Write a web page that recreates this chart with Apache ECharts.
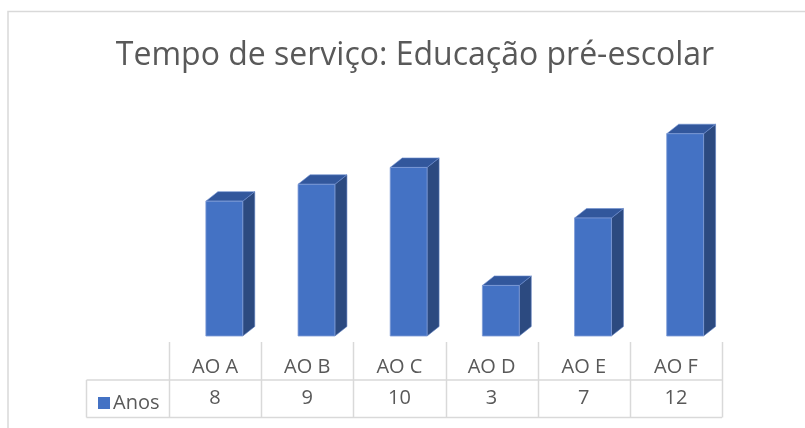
<!DOCTYPE html>
<html>
<head>
<meta charset="utf-8">
<script src="https://cdn.jsdelivr.net/npm/echarts@6/dist/echarts.min.js"></script>
<style>
  html, body { margin: 0; padding: 0; background: #fff; }
  #chart { width: 805px; height: 428px; }
</style>
</head>
<body>
<div id="chart"></div>
<script>
// dados
const categories = ['AO A', 'AO B', 'AO C', 'AO D', 'AO E', 'AO F'];
const anos = [8, 9, 10, 3, 7, 12];
const seriesName = 'Anos';
const titleText = 'Tempo de serviço: Educação pré-escolar';

const FONT = '"Open Sans", "Noto Sans", sans-serif';
const TEXT = '#595959';
const LINE = '#d9d9d9';

const chart = echarts.init(document.getElementById('chart'), null, { renderer: 'canvas' });

// barra "3D" ao estilo Excel: frente, lado e topo
function renderBar3d(params, api) {
  const base = api.coord([api.value(0), 0]);
  const top = api.coord([api.value(0), api.value(1)]);
  const band = api.size([1, 0])[0];
  const w = band * 0.4;
  const dx = 12, dy = 9.5;
  const left = base[0] - 9.2;
  const right = left + w;
  const yTop = top[1], yBase = base[1];
  return {
    type: 'group',
    children: [
      {
        type: 'polygon',
        shape: { points: [[right, yTop], [right + dx, yTop - dy], [right + dx, yBase - dy], [right, yBase]] },
        style: { fill: '#2c4a80', stroke: '#5b7cbd', lineWidth: 0.6 }
      },
      {
        type: 'polygon',
        shape: { points: [[left, yTop], [left + dx, yTop - dy], [right + dx, yTop - dy], [right, yTop]] },
        style: { fill: '#32579c', stroke: '#6f8fd0', lineWidth: 0.6 }
      },
      {
        type: 'rect',
        shape: { x: left, y: yTop, width: w, height: yBase - yTop },
        style: { fill: '#4472c4', stroke: '#7d9ad6', lineWidth: 0.8 }
      }
    ]
  };
}

const option = {
  backgroundColor: '#fff',
  animation: false,
  title: {
    text: titleText,
    left: 410,
    top: 35,
    textAlign: 'center',
    textStyle: { fontFamily: FONT, fontWeight: 'normal', fontSize: 32, color: TEXT, letterSpacing: 1.4 }
  },
  legend: {
    left: 93,
    top: 388,
    icon: 'rect',
    itemWidth: 12,
    itemHeight: 12,
    itemGap: 6,
    textStyle: { fontFamily: FONT, fontSize: 20, color: TEXT, padding: [0, 0, 0, -2] },
    data: [seriesName]
  },
  grid: { left: 169, right: 83, top: 100, bottom: 92 },
  xAxis: [
    {
      type: 'category',
      data: categories,
      axisLine: { show: false },
      axisTick: { show: false },
      axisLabel: { margin: 21, fontFamily: FONT, fontSize: 20, color: TEXT }
    },
    {
      type: 'category',
      data: anos.map(String),
      position: 'bottom',
      axisLine: { show: false },
      axisTick: { show: false },
      axisLabel: { margin: 52, fontFamily: FONT, fontSize: 20, color: TEXT }
    }
  ],
  yAxis: { type: 'value', min: 0, max: 14, show: false },
  series: [{
    name: seriesName,
    type: 'custom',
    itemStyle: { color: '#4472c4' },
    renderItem: renderBar3d,
    encode: { x: 0, y: 1 },
    data: anos.map((v, i) => [i, v])
  }]
};
chart.setOption(option);

// linhas da tabela de dados, a partir das posições do eixo
const x0 = chart.convertToPixel({ xAxisIndex: 0 }, 0);
const x1 = chart.convertToPixel({ xAxisIndex: 0 }, 1);
const band = x1 - x0;
const gLeft = x0 - band / 2;
const gRight = gLeft + band * categories.length;
const yTopTicks = 342, yMid = 380, yBot = 417.5, tableLeft = 86.5;
const lines = [];
for (let i = 0; i <= categories.length; i++) {
  const x = Math.round(gLeft + i * band) + 0.5;
  lines.push({ type: 'line', shape: { x1: x, y1: yTopTicks, x2: x, y2: yBot }, style: { stroke: LINE, lineWidth: 1.5 } });
}
lines.push({ type: 'line', shape: { x1: tableLeft, y1: yMid, x2: gRight, y2: yMid }, style: { stroke: LINE, lineWidth: 1.5 } });
lines.push({ type: 'line', shape: { x1: tableLeft, y1: yBot, x2: gRight, y2: yBot }, style: { stroke: LINE, lineWidth: 1.5 } });
lines.push({ type: 'line', shape: { x1: tableLeft, y1: yMid, x2: tableLeft, y2: yBot }, style: { stroke: LINE, lineWidth: 1.5 } });
// moldura do gráfico
lines.push({ type: 'rect', shape: { x: 8, y: 11.5, width: 820, height: 440 }, style: { fill: null, stroke: LINE, lineWidth: 1.5 } });
chart.setOption({ graphic: { elements: lines } });
</script>
</body>
</html>
